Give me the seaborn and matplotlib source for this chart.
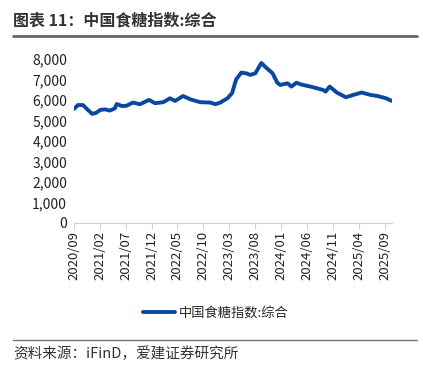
import seaborn as sns
import matplotlib.pyplot as plt
import matplotlib.dates as mdates
import pandas as pd

# Data
dates = ['2020-09-01', '2020-09-24', '2020-10-23', '2020-11-22', '2020-12-16',
         '2021-01-09', '2021-02-02', '2021-03-01', '2021-03-31', '2021-04-29',
         '2021-05-10', '2021-06-10', '2021-07-08', '2021-08-13', '2021-09-24',
         '2021-11-16', '2021-12-21', '2022-02-08', '2022-03-19', '2022-04-18',
         '2022-06-04', '2022-07-16', '2022-09-12', '2022-11-12', '2022-12-10',
         '2023-01-09', '2023-02-20', '2023-03-19', '2023-04-12', '2023-05-12',
         '2023-06-10', '2023-07-04', '2023-08-03', '2023-09-07', '2023-10-07',
         '2023-11-12', '2023-12-10', '2023-12-28', '2024-02-08', '2024-03-02',
         '2024-04-01', '2024-04-25', '2024-06-22', '2024-09-03', '2024-09-19',
         '2024-10-13', '2024-11-24', '2025-01-16', '2025-02-27', '2025-04-19',
         '2025-06-12', '2025-07-22', '2025-09-09', '2025-10-13']
values = [5560, 5750, 5750, 5510, 5320,
          5370, 5510, 5540, 5480, 5590,
          5800, 5700, 5720, 5870, 5790,
          6000, 5840, 5890, 6080, 5950,
          6190, 6030, 5890, 5870, 5790,
          5870, 6080, 6330, 7000, 7330,
          7300, 7220, 7300, 7800, 7560,
          7300, 6840, 6730, 6810, 6650,
          6840, 6760, 6650, 6490, 6410,
          6650, 6360, 6130, 6240, 6360,
          6240, 6190, 6080, 5950]
series_name = '中国食糖指数:综合'
tick_dates = pd.date_range('2020-09-01', '2025-09-01', freq='5MS')

df = pd.DataFrame({'date': pd.to_datetime(dates), 'value': values})

sns.set_style('white')
plt.rcParams['font.family'] = ['Noto Sans CJK SC', 'DejaVu Sans']

fig = plt.figure(figsize=(4.23, 3.66), dpi=100)
ax = fig.add_axes([0.175, 0.391, 0.752, 0.448])

sns.lineplot(data=df, x='date', y='value', ax=ax, color='#0a47a0',
             linewidth=2.8, label=series_name)

ax.set_ylim(0, 8000)
ax.set_xlim(pd.Timestamp('2020-09-01'), pd.Timestamp('2025-10-15'))
ax.set_yticks(range(0, 8001, 1000))
ax.yaxis.set_major_formatter(plt.FuncFormatter(lambda v, p: f'{int(v):,}'))
ax.set_xticks(tick_dates)
ax.xaxis.set_major_formatter(mdates.DateFormatter('%Y/%m'))
ax.tick_params(axis='x', rotation=90, labelsize=9.5, length=4, color='#d0d0d0',
               direction='out', pad=2, bottom=True)
ax.tick_params(axis='y', labelsize=10, length=0, pad=5)
for lab in ax.get_xticklabels() + ax.get_yticklabels():
    lab.set_color('#222222')
ax.set_xlabel('')
ax.set_ylabel('')
for s in ['top', 'right', 'left']:
    ax.spines[s].set_visible(False)
ax.spines['bottom'].set_color('#d0d0d0')
ax.grid(False)

ax.legend(loc='center', bbox_to_anchor=(0.51, 0.145), bbox_transform=fig.transFigure,
          frameon=False, fontsize=9.5, handlelength=2.4, handletextpad=0.3)

# title, rules and source
fig.text(0.031, 0.945, '图表 11：中国食糖指数:综合', fontsize=11.5, fontweight='bold',
         color='#333333', va='center', ha='left')
fig.add_artist(plt.Line2D([0.031, 0.985], [0.903, 0.903], color='#666666', linewidth=2))
fig.add_artist(plt.Line2D([0.031, 0.985], [0.072, 0.072], color='#777777', linewidth=1))
fig.text(0.031, 0.033, '资料来源：iFinD，爱建证券研究所', fontsize=10.5,
         color='#333333', va='center', ha='left')

fig.savefig('out.png', dpi=100)
